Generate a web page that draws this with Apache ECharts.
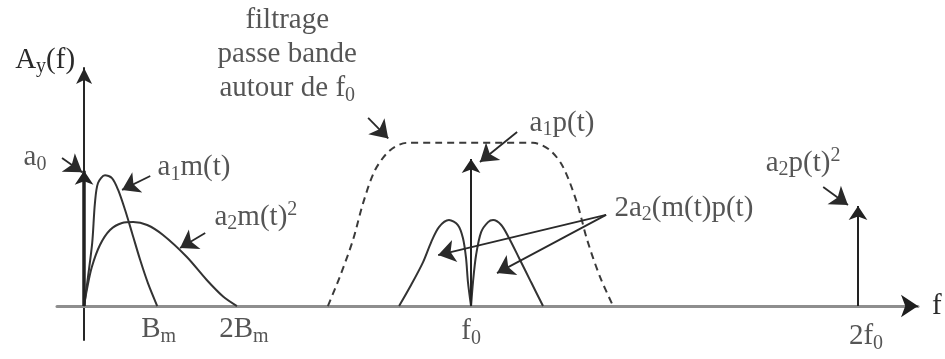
<!DOCTYPE html>
<html>
<head>
<meta charset="utf-8">
<script src="https://cdn.jsdelivr.net/npm/echarts@6/dist/echarts.min.js"></script>
<style>
  html, body { margin: 0; padding: 0; background: #ffffff; }
  #chart { width: 945px; height: 359px; }
</style>
</head>
<body>
<div id="chart"></div>
<script>
// Frequency (f0 = 10) and amplitude ranges of the sketch
const fRange = [-0.7, 21.55];
const ampRange = [-2.31, 16.19];

// Tick marks on the frequency axis
const tickValues = [1.9, 3.95, 10, 20];
const tickTexts = ['{n|B}{s|m}', '{n|2B}{s|m}', '{n|f}{s|0}', '{n|2f}{s|0}'];
// small hand-set label nudges (px) under the ticks
const tickLabelNudge = [[1, 0], [7, 0], [0, 2], [8, 7]];

// a1·m(t): baseband spectrum, bandwidth Bm
const a1mF = [0, 0.1, 0.21, 0.28, 0.36, 0.54, 0.72, 0.88, 1.06, 1.24, 1.45, 1.65, 1.89];
const a1mA = [0, 1.97, 4.29, 7.0, 8.37, 8.9, 8.7, 7.9, 6.53, 4.97, 3.13, 1.56, 0];

// a2·m(t)²: squared term, bandwidth 2Bm
const a2mF = [0, 0.07, 0.2, 0.41, 0.67, 0.98, 1.27, 1.63, 2.04, 2.65, 3.17, 3.6, 3.95];
const a2mA = [0, 1.09, 2.65, 4.15, 5.17, 5.65, 5.71, 5.51, 4.83, 3.35, 1.77, 0.63, 0];

// Band-pass filter template around f0 (dashed)
const filterF = [6.3, 6.61, 6.95, 7.21, 7.52, 7.91, 8.35, 9.2, 10, 10.8, 11.6, 12.04, 12.38, 12.74, 13.0, 13.33, 13.67];
const filterA = [0, 2.0, 4.5, 7.0, 9.25, 10.6, 11.1, 11.1, 11.1, 11.1, 11.1, 10.6, 9.45, 7.0, 4.5, 2.0, 0];

// 2a2·m(t)p(t): two lobes on each side of f0
const lobeLeftF = [8.14, 8.45, 8.76, 8.97, 9.17, 9.43, 9.66, 9.79, 9.87, 9.92, 10.0];
const lobeLeftA = [0, 1.43, 2.99, 4.35, 5.37, 5.85, 5.51, 4.63, 3.27, 1.63, 0];
const lobeRightF = [10.0, 10.05, 10.13, 10.26, 10.44, 10.57, 10.78, 10.98, 11.24, 11.55, 11.86];
const lobeRightA = [0, 1.63, 3.47, 5.03, 5.71, 5.85, 5.51, 4.63, 3.27, 1.63, 0];

// Spectral lines: a0 at DC, a1·p(t) at f0, a2·p(t)² at 2f0
const diracF = [0, 10, 20];
const diracA = [9.2, 10.0, 6.8];
const diracWidth = [3.5, 2, 2];

// Pointer arrows: start and tip, in (f, A)
const pointerFrom = [[-0.57, 10.07], [1.71, 8.84], [3.13, 4.97], [7.34, 12.8], [11.19, 11.84], [13.49, 6.2], [13.49, 6.2], [19.1, 8.1]];
const pointerTo   = [[-0.05, 9.1], [0.98, 7.9], [2.48, 3.95], [7.86, 11.4], [10.23, 9.8], [9.15, 3.47], [10.67, 2.24], [19.74, 6.87]];

// Annotation texts and their anchor positions (f, A)
const noteTexts = [
  '{n|a}{s|0}',
  '{n|a}{s|1}{n|m(t)}',
  '{n|a}{s|2}{n|m(t)}{p|2}',
  '{n|filtrage}\n{n|passe bande}\n{n|autour de f}{s|0}',
  '{n|a}{s|1}{n|p(t)}',
  '{n|2a}{s|2}{n|(m(t)p(t)}',
  '{n|a}{s|2}{n|p(t)}{p|2}'
];
const noteF = [-1.27, 2.84, 4.44, 5.25, 12.35, 15.5, 18.58];
const noteA = [10.1, 9.4, 6.05, 17.1, 12.45, 6.67, 9.73];

const ink = '#2a2a2a';
const serif = 'Liberation Serif';
const rich = {
  n: { fontFamily: serif, fontSize: 29, color: ink, lineHeight: 34, align: 'center' },
  s: { fontFamily: serif, fontSize: 20, color: ink, verticalAlign: 'bottom', padding: [11, 0, 0, 0], align: 'center' },
  p: { fontFamily: serif, fontSize: 20, color: ink, verticalAlign: 'top', padding: [0, 0, 8, 0], align: 'center' }
};

const zip = (xs, ys) => xs.map((x, i) => [x, ys[i]]);

function curve(xs, ys, dashed) {
  return {
    type: 'line',
    data: zip(xs, ys),
    smooth: 0.3,
    showSymbol: false,
    symbol: 'none',
    silent: true,
    clip: false,
    lineStyle: dashed
      ? { color: '#3a3a3a', width: 2, type: [7, 5] }
      : { color: '#333333', width: 2 },
    z: 3
  };
}

// invisible anchors that only carry a rich-text label
function textLayer(xs, ys, texts, labelOpts, nudges) {
  return {
    type: 'scatter',
    symbol: 'circle',
    symbolSize: 1,
    clip: false,
    silent: true,
    itemStyle: { color: 'rgba(0,0,0,0)' },
    z: 6,
    label: Object.assign({ show: true, color: ink, fontFamily: serif, fontSize: 29, rich: rich }, labelOpts),
    data: xs.map((x, i) => ({
      value: [x, ys[i]],
      label: {
        show: true, formatter: texts[i], fontFamily: serif, fontSize: 29, color: ink, rich: rich,
        offset: nudges ? nudges[i] : [0, 0]
      }
    }))
  };
}

const chart = echarts.init(document.getElementById('chart'));
chart.setOption({
  backgroundColor: '#ffffff',
  animation: false,
  textStyle: { fontFamily: serif },
  grid: { left: 57, right: 27, top: 68, bottom: 19, containLabel: false, outerBoundsMode: 'none' },
  xAxis: {
    type: 'value',
    min: fRange[0],
    max: fRange[1],
    axisLine: {
      onZero: true,
      symbol: 'none',
      lineStyle: { color: '#8e8e8e', width: 3 }
    },
    axisTick: { show: false },
    splitLine: { show: false },
    axisLabel: { show: false },
    name: 'f',
    nameLocation: 'end',
    nameGap: 14,
    nameTextStyle: { fontFamily: serif, fontSize: 29, color: ink, verticalAlign: 'middle' }
  },
  yAxis: {
    type: 'value',
    min: ampRange[0],
    max: ampRange[1],
    axisLine: {
      onZero: true,
      symbol: ['none', 'arrow'],
      symbolSize: [12, 16],
      lineStyle: { color: '#262626', width: 2 }
    },
    axisTick: { show: false },
    splitLine: { show: false },
    axisLabel: { show: false },
    name: '{n|A}{s|y}{n|(f)}',
    nameLocation: 'end',
    nameGap: -9,
    nameTextStyle: { fontFamily: serif, fontSize: 29, color: ink, align: 'right', verticalAlign: 'bottom', padding: [0, 9, 0, 0], rich: rich }
  },
  series: [
    curve(a1mF, a1mA, false),
    curve(a2mF, a2mA, false),
    curve(filterF, filterA, true),
    curve(lobeLeftF, lobeLeftA, false),
    curve(lobeRightF, lobeRightA, false),
    {
      // dark arrow head closing the frequency axis
      type: 'lines',
      coordinateSystem: 'cartesian2d',
      symbol: ['none', 'arrow'],
      symbolSize: [14, 17],
      silent: true,
      z: 4,
      lineStyle: { color: '#1e1e1e', width: 1, opacity: 1 },
      data: [{ coords: [[fRange[1] - 0.05, 0], [fRange[1], 0]] }]
    },
    {
      type: 'lines',
      coordinateSystem: 'cartesian2d',
      symbol: ['none', 'arrow'],
      symbolSize: [11, 14],
      silent: true,
      z: 4,
      data: diracF.map((f, i) => ({
        coords: [[f, 0], [f, diracA[i]]],
        lineStyle: { color: '#222222', width: diracWidth[i], opacity: 1 }
      }))
    },
    {
      type: 'lines',
      coordinateSystem: 'cartesian2d',
      symbol: ['none', 'arrow'],
      symbolSize: [13, 17],
      silent: true,
      z: 5,
      lineStyle: { color: '#2a2a2a', width: 1.8, opacity: 1 },
      data: pointerFrom.map((p, i) => ({ coords: [p, pointerTo[i]] }))
    },
    textLayer(noteF, noteA, noteTexts, { position: 'inside', align: 'center', verticalAlign: 'middle' }),
    textLayer(tickValues, tickValues.map(() => 0), tickTexts, { position: 'bottom', distance: 6, align: 'center' }, tickLabelNudge)
  ]
});
</script>
</body>
</html>
